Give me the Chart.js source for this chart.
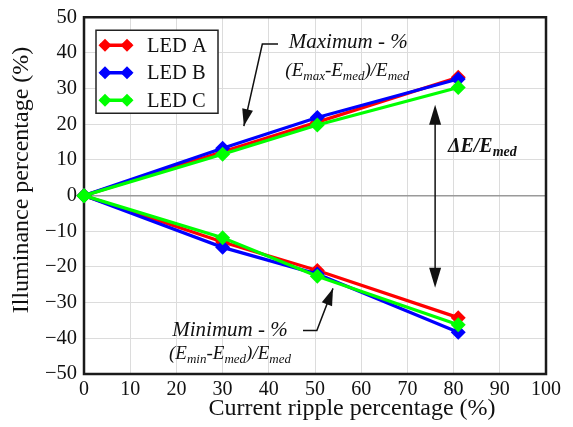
<!DOCTYPE html>
<html><head><meta charset="utf-8">
<script src="https://cdn.jsdelivr.net/npm/chart.js@4/dist/chart.umd.min.js"></script>
<style>html,body{margin:0;padding:0;background:#fff}#wrap{width:573px;height:427px;position:relative}</style>
</head><body><div id="wrap"><canvas id="c"></canvas></div>
<script>
// ---- data ----
const ripple   = [0, 30, 50.5, 81];
const ledAMax  = [0, 12.3, 20.6, 33.2];
const ledAMin  = [0, -13.0, -21.0, -34.2];
const ledBMax  = [0, 13.3, 21.9, 32.7];
const ledBMin  = [0, -14.5, -22.0, -38.3];
const ledCMax  = [0, 11.6, 19.8, 30.3];
const ledCMin  = [0, -11.8, -22.6, -36.2];
const seriesNames  = ['LED A', 'LED B', 'LED C'];
const seriesColors = ['#ff0000', '#0000ff', '#00ff00'];
const xTickValues = [0, 10, 20, 30, 40, 50, 60, 70, 80, 90, 100];
const yTickValues = [-50, -40, -30, -20, -10, 0, 10, 20, 30, 40, 50];
const xTitle = 'Current ripple percentage (%)';
const yTitle = 'Illuminance percentage (%)';

const FONT = '"Liberation Serif", "DejaVu Serif", serif';

function pts(ys){ return ripple.map((x,i)=>({x:x, y:ys[i]})); }
function ds(label, ys, color, order, legend){
  return {label, data: pts(ys), borderColor: color, backgroundColor: color,
    borderWidth: 3.2, pointStyle: 'rectRot', pointRadius: 7.5, pointHoverRadius: 7.5,
    pointBorderWidth: 0, order, clip: false, inLegend: legend};
}
const datasets = [
  ds(seriesNames[0], ledAMax, seriesColors[0], 3, true),
  ds(seriesNames[0], ledAMin, seriesColors[0], 3, false),
  ds(seriesNames[1], ledBMax, seriesColors[1], 2, true),
  ds(seriesNames[1], ledBMin, seriesColors[1], 2, false),
  ds(seriesNames[2], ledCMax, seriesColors[2], 1, true),
  ds(seriesNames[2], ledCMin, seriesColors[2], 1, false)
];

// annotation layout (data units)
const annotations = {
  maxText: {x: 57.2, y: 42.8},
  maxFormula: {x: 57.0, y: 35.0},
  maxArrow: [[42.0, 42.5], [38.6, 42.5], [34.6, 19.5]],
  dArrow: {x: 76, y1: 25.5, y2: -25.8},
  dText: {x: 78, y: 13.6},
  minText: {x: 31.6, y: -37.8},
  minFormula: {x: 31.6, y: -44.4},
  minArrow: [[47.4, -37.8], [50.4, -37.8], [53.9, -26.0]]
};

function richText(ctx, parts, cx, cy, size, weight){
  let w = 0;
  const items = parts.map(p => {
    const s = p.sub ? Math.round(size*0.68) : size;
    ctx.font = `${weight} italic ${s}px ${FONT}`;
    const m = ctx.measureText(p.t).width;
    w += m; return {t:p.t, s, m, sub:p.sub};
  });
  let x = cx - w/2;
  ctx.textBaseline = 'middle'; ctx.textAlign = 'left';
  items.forEach(it => {
    ctx.font = `${weight} italic ${it.s}px ${FONT}`;
    ctx.fillText(it.t, x, it.sub ? cy + size*0.28 : cy);
    x += it.m;
  });
}
function arrowHead(ctx, x1, y1, x2, y2, len, wid){
  const a = Math.atan2(y2-y1, x2-x1);
  ctx.beginPath();
  ctx.moveTo(x2, y2);
  ctx.lineTo(x2 - len*Math.cos(a) + wid/2*Math.sin(a), y2 - len*Math.sin(a) - wid/2*Math.cos(a));
  ctx.lineTo(x2 - len*Math.cos(a) - wid/2*Math.sin(a), y2 - len*Math.sin(a) + wid/2*Math.cos(a));
  ctx.closePath(); ctx.fill();
}
function poly(ctx, pts){
  ctx.beginPath(); ctx.moveTo(pts[0][0], pts[0][1]);
  for (let i=1;i<pts.length;i++) ctx.lineTo(pts[i][0], pts[i][1]);
  ctx.stroke();
}

const decor = {
  id: 'decor',
  beforeDatasetsDraw(chart){
    const {ctx, chartArea: a} = chart;
    ctx.save();
    ctx.strokeStyle = '#1a1a1a'; ctx.lineWidth = 2.5;
    ctx.strokeRect(a.left, a.top, a.right - a.left, a.bottom - a.top);
    ctx.restore();
  },
  afterDatasetsDraw(chart){
    const {ctx, chartArea: a, scales:{x, y}} = chart;
    const X = v => x.getPixelForValue(v), Y = v => y.getPixelForValue(v);
    ctx.save();
    // legend
    const lx = a.left + 12, ly = a.top + 13, lw = 122, lh = 83;
    ctx.fillStyle = '#fff'; ctx.fillRect(lx, ly, lw, lh);
    ctx.strokeStyle = '#222'; ctx.lineWidth = 1.5; ctx.strokeRect(lx, ly, lw, lh);
    const legendSets = chart.data.datasets.filter(d => d.inLegend);
    legendSets.forEach((d, i) => {
      const cy = ly + 15 + i*27.5;
      ctx.strokeStyle = d.borderColor; ctx.lineWidth = 3.5;
      ctx.beginPath(); ctx.moveTo(lx + 4, cy); ctx.lineTo(lx + 36, cy); ctx.stroke();
      ctx.fillStyle = d.borderColor;
      [lx + 9, lx + 31].forEach(px => {
        ctx.beginPath(); ctx.moveTo(px, cy - 6.5); ctx.lineTo(px + 6.5, cy); ctx.lineTo(px, cy + 6.5); ctx.lineTo(px - 6.5, cy); ctx.closePath(); ctx.fill();
      });
      ctx.fillStyle = '#111'; ctx.font = `20.5px ${FONT}`; ctx.textAlign = 'left'; ctx.textBaseline = 'middle';
      ctx.fillText(d.label, lx + 51, cy + 1);
    });
    // annotations
    ctx.fillStyle = '#111'; ctx.strokeStyle = '#111'; ctx.lineWidth = 1.5;
    richText(ctx, [{t:'Maximum - %'}], X(annotations.maxText.x), Y(annotations.maxText.y), 21, 'normal');
    richText(ctx, [{t:'(E'},{t:'max',sub:true},{t:'-E'},{t:'med',sub:true},{t:')/E'},{t:'med',sub:true}],
      X(annotations.maxFormula.x), Y(annotations.maxFormula.y), 19, 'normal');
    const ma = annotations.maxArrow.map(p => [X(p[0]), Y(p[1])]);
    poly(ctx, ma); arrowHead(ctx, ma[1][0], ma[1][1], ma[2][0], ma[2][1], 17, 11);
    const dx = X(annotations.dArrow.x), dy1 = Y(annotations.dArrow.y1), dy2 = Y(annotations.dArrow.y2);
    poly(ctx, [[dx, dy1 + 10], [dx, dy2 - 10]]);
    arrowHead(ctx, dx, dy2, dx, dy1, 20, 12);
    arrowHead(ctx, dx, dy1, dx, dy2, 20, 12);
    richText(ctx, [{t:'\u0394E/E'},{t:'med',sub:true}], X(annotations.dText.x) + 38, Y(annotations.dText.y), 20, 'bold');
    richText(ctx, [{t:'Minimum - %'}], X(annotations.minText.x), Y(annotations.minText.y), 21, 'normal');
    richText(ctx, [{t:'(E'},{t:'min',sub:true},{t:'-E'},{t:'med',sub:true},{t:')/E'},{t:'med',sub:true}],
      X(annotations.minFormula.x), Y(annotations.minFormula.y), 19, 'normal');
    const mi = annotations.minArrow.map(p => [X(p[0]), Y(p[1])]);
    poly(ctx, mi); arrowHead(ctx, mi[1][0], mi[1][1], mi[2][0], mi[2][1], 17, 11);
    // axis titles
    ctx.fillStyle = '#111'; ctx.font = `24px ${FONT}`; ctx.textAlign = 'center'; ctx.textBaseline = 'middle';
    ctx.fillText(xTitle, 352, 409);
    ctx.save(); ctx.translate(22, 180); ctx.rotate(-Math.PI/2);
    ctx.fillText(yTitle, 0, 0); ctx.restore();
    ctx.restore();
  }
};

new Chart(document.getElementById('c'), {
  type: 'line',
  data: { datasets },
  options: {
    responsive: true, maintainAspectRatio: false, animation: false,
    layout: { padding: { top: 12, right: 27, left: 0, bottom: 0 } },
    plugins: { legend: { display: false }, tooltip: { enabled: false } },
    scales: {
      x: {
        type: 'linear', min: 0, max: 100,
        afterBuildTicks: s => { s.ticks = xTickValues.map(v => ({value: v})); },
        afterFit: s => { s.height = 53; },
        grid: { color: '#dcdcdc', lineWidth: 1, drawTicks: false },
        border: { display: false },
        ticks: { color: '#111', font: { family: FONT, size: 20, lineHeight: 1 }, padding: 6, maxRotation: 0 }
      },
      y: {
        type: 'linear', min: -50, max: 50,
        afterBuildTicks: s => { s.ticks = yTickValues.map(v => ({value: v})); },
        afterFit: s => { s.width = 84; },
        grid: { color: c => c.tick && c.tick.value === 0 ? '#9a9a9a' : '#dcdcdc',
                lineWidth: c => c.tick && c.tick.value === 0 ? 1.5 : 1, drawTicks: false },
        border: { display: false },
        ticks: { color: '#111', font: { family: FONT, size: 20.5, lineHeight: 1 }, padding: 7,
                 callback: v => v < 0 ? '\u2212' + Math.abs(v) : String(v) }
      }
    }
  },
  plugins: [decor]
});
</script>
</body></html>
